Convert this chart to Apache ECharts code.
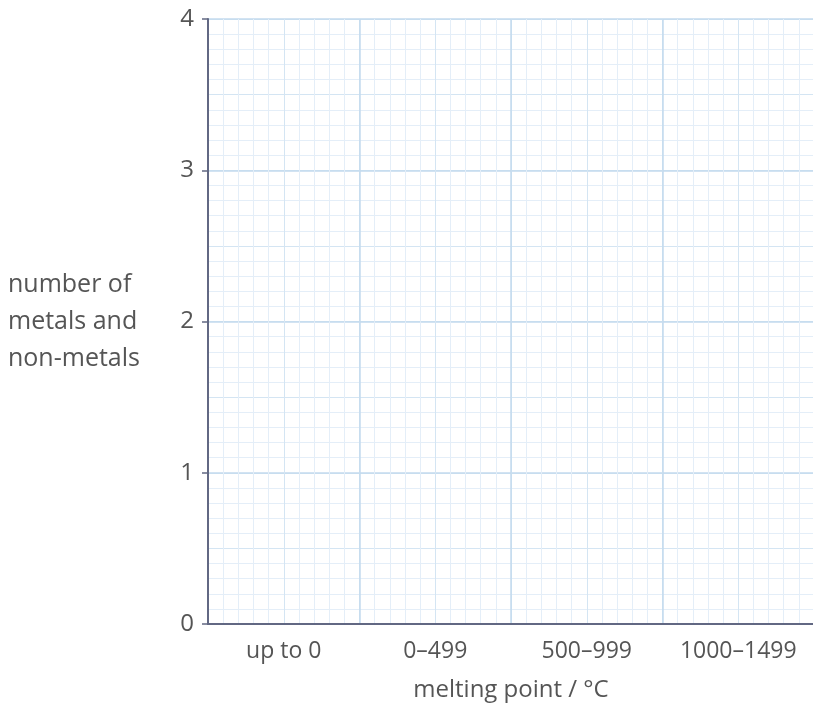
<!DOCTYPE html>
<html>
<head>
<meta charset="utf-8">
<script src="https://cdn.jsdelivr.net/npm/echarts@6/dist/echarts.min.js"></script>
<style>html,body{margin:0;padding:0;background:#fff;}#c{width:813px;height:704px;}</style>
</head>
<body>
<div id="c"></div>
<script>
const categories = ['up to 0', '0–499', '500–999', '1000–1499'];
const counts = [null, null, null, null];
const yMin = 0, yMax = 4, yStep = 1;
const yTitle = 'number of\nmetals and\nnon-metals';
const xTitle = 'melting point / °C';

const FONT = 'Open Sans';
const FS = 25;
const major = '#c3daee';
const mid = '#d4e5f3';
const minor = '#e4eef8';
const axisCol = '#626883';
const textCol = '#555555';

const chart = echarts.init(document.getElementById('c'), null, {renderer: 'canvas'});
chart.setOption({
  animation: false,
  backgroundColor: '#ffffff',
  textStyle: {fontFamily: FONT},
  grid: {left: 208, top: 19, width: 606, height: 605, containLabel: false, outerBoundsMode: 'none'},
  xAxis: [
    {
      type: 'value', min: 0, max: categories.length, interval: 1,
      axisLine: {show: false}, axisTick: {show: false}, axisLabel: {show: false},
      splitLine: {show: false},
      minorTick: {show: false, splitNumber: 10},
      minorSplitLine: {show: true, lineStyle: {color: minor, width: 1}}
    },
    {
      type: 'value', min: 0, max: categories.length, interval: 0.5,
      axisLine: {show: false}, axisTick: {show: false}, axisLabel: {show: false},
      splitLine: {show: true, lineStyle: {color: mid, width: 1}}
    },
    {
      type: 'value', min: 0, max: categories.length, interval: 1,
      axisLine: {show: false}, axisTick: {show: false}, axisLabel: {show: false},
      splitLine: {show: true, lineStyle: {color: major, width: 1.5}}
    },
    {
      type: 'category', data: categories, position: 'bottom', boundaryGap: true,
      axisLine: {show: true, onZero: false, lineStyle: {color: axisCol, width: 2}},
      axisTick: {show: false},
      axisLabel: {color: textCol, fontSize: 23, margin: 16, fontFamily: FONT, interval: 0, hideOverlap: false},
      splitLine: {show: false},
      name: xTitle, nameLocation: 'middle', nameGap: 54,
      nameTextStyle: {color: textCol, fontSize: 24, fontFamily: FONT}
    }
  ],
  yAxis: [
    {
      type: 'value', min: yMin, max: yMax, interval: yStep,
      minorTick: {show: false, splitNumber: 10},
      minorSplitLine: {show: true, lineStyle: {color: minor, width: 1}},
      splitLine: {show: false},
      axisLine: {show: false}, axisTick: {show: false}, axisLabel: {show: false}
    },
    {
      type: 'value', min: yMin, max: yMax, interval: yStep / 2,
      splitLine: {show: true, lineStyle: {color: mid, width: 1}},
      axisLine: {show: false}, axisTick: {show: false}, axisLabel: {show: false}
    },
    {
      type: 'value', min: yMin, max: yMax, interval: yStep, position: 'left',
      splitLine: {show: true, lineStyle: {color: major, width: 1.5}},
      axisLine: {show: true, onZero: false, lineStyle: {color: axisCol, width: 2}},
      axisTick: {show: true, length: 6, lineStyle: {color: axisCol, width: 1.5}},
      axisLabel: {color: textCol, fontSize: 24, margin: 14, fontFamily: FONT},
      name: yTitle, nameLocation: 'middle', nameRotate: 0, nameGap: 200,
      nameTextStyle: {color: textCol, fontSize: FS, align: 'left', lineHeight: 37, fontFamily: FONT}
    }
  ],
  series: [{
    type: 'bar', xAxisIndex: 3, yAxisIndex: 2, data: counts
  }]
});
</script>
</body>
</html>
